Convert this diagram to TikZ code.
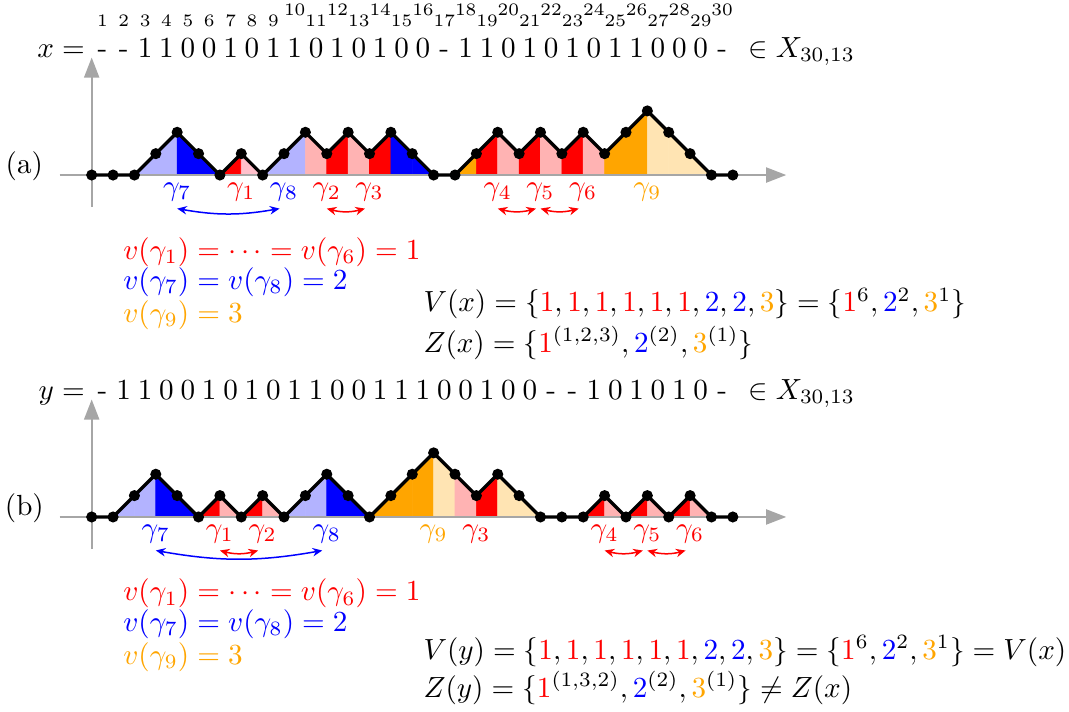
\documentclass[tikz,border=0pt]{standalone}
\usetikzlibrary{arrows.meta}
\definecolor{lbl}{HTML}{B3B3FF}
\definecolor{dbl}{HTML}{0000FF}
\definecolor{rd}{HTML}{FF0000}
\definecolor{pk}{HTML}{FFB3B3}
\definecolor{pnk}{HTML}{FFC0CB}
\definecolor{og}{HTML}{FFA500}
\definecolor{lor}{HTML}{FFE4B3}
\definecolor{axg}{HTML}{A6A6A6}
\newcommand{\cR}[1]{\textcolor{rd}{#1}}
\newcommand{\cB}[1]{\textcolor{dbl}{#1}}
\newcommand{\cO}[1]{\textcolor{og}{#1}}

\begin{document}
\begin{tikzpicture}[
  x=0.25cm, y=0.25cm,
  axis/.style={axg, line width=0.67pt, -{Triangle[length=6.7pt,width=5pt]}},
  walk/.style={line width=1.1pt, line join=round},
  dot/.style={circle, fill=black, inner sep=0pt, minimum size=3.7pt},
  col/.style={fill=#1, draw=#1, line width=0.2pt},
  chr/.style={anchor=base, inner sep=0pt, scale=0.97},
  idx/.style={anchor=base, inner sep=0pt, scale=0.97, font=\fontsize{6}{7}\selectfont},
  lab/.style={anchor=base, inner sep=2.4pt, scale=0.97},
  pair/.style={{Stealth[length=3.2pt,width=2.8pt]}-{Stealth[length=3.2pt,width=2.8pt]}, line width=0.5pt},
  eq/.style={anchor=base west, inner sep=0pt, scale=0.97}
]
\useasboundingbox (-4.29,-25.08) rectangle (45.73,8.19);

% ---------------------------------------------------------------- (a) the word x
\coordinate (oa) at (0,0);
\foreach \h [count=\k from 0] in {0,0,0,1,2,1,0,1,0,1,2,1,2,1,2,1,0,0,1,2,1,2,1,2,1,2,3,2,1,0,0}
  \coordinate (a\k) at (\k,\h);
\foreach \k/\c in {3/lbl,4/lbl,5/dbl,6/dbl,7/rd,8/pnk,9/lbl,10/lbl,11/pk,12/rd,13/pk,14/rd,15/dbl,16/dbl,
                   18/og,19/rd,20/pk,21/rd,22/pk,23/rd,24/pk,25/og,26/og,27/lor,28/lor,29/lor}{
  \pgfmathtruncatemacro\p{\k-1}
  \path[col=\c] (a\p) -- (a\k) -- (a\k |- oa) -- (a\p |- oa) -- cycle;
}
\draw[axis] (-1.5,0) -- (32.5,0);
\draw[axis] (0,-1.5) -- (0,5.5);
\draw[walk] (a0) \foreach \k in {1,...,30}{-- (a\k)};
\foreach \k in {0,...,30} \node[dot] at (a\k) {};
\node[chr] (taga) at (-3.15,0.08) {(a)};

\node[anchor=base east, inner sep=0pt, scale=0.97] (xeq) at (-0.3,5.5) {$x=$};
\foreach \c [count=\i] in {-,-,1,1,0,0,1,0,1,1,0,1,0,1,0,0,-,1,1,0,1,0,1,0,1,1,0,0,0,-}
  \node[chr] (xs\i) at (\i-0.5,5.5) {\c};
\foreach \i in {1,...,9} \node[idx] at (\i-0.5,6.93) {\i};
\foreach \i in {11,13,...,29} \node[idx] at (\i-0.5,6.93) {\i};
\foreach \i in {10,12,...,30} \node[idx] at (\i-0.5,7.45) {\i};
\node[eq] (xin) at (30.7,5.5) {$\in X_{30,13}$};

% labels and swaps
\node[lab, text=dbl] (ga7) at (4,-0.95) {$\gamma_7$};
\node[lab, text=rd]  (ga1) at (7,-0.95) {$\gamma_1$};
\node[lab, text=dbl] (ga8) at (9,-0.95) {$\gamma_8$};
\node[lab, text=rd]  (ga2) at (11,-0.95) {$\gamma_2$};
\node[lab, text=rd]  (ga3) at (13,-0.95) {$\gamma_3$};
\node[lab, text=rd]  (ga4) at (19,-0.95) {$\gamma_4$};
\node[lab, text=rd]  (ga5) at (21,-0.95) {$\gamma_5$};
\node[lab, text=rd]  (ga6) at (23,-0.95) {$\gamma_6$};
\node[lab, text=og]  (ga9) at (26,-0.95) {$\gamma_9$};
\draw[pair, dbl] (ga7.south) to[bend right=10] ([xshift=-1.5pt]ga8.south);
\draw[pair, rd] (ga2.south) to[bend right=15] ([xshift=-1.5pt]ga3.south);
\draw[pair, rd] (ga4.south) to[bend right=15] ([xshift=-1.5pt]ga5.south);
\draw[pair, rd] (ga5.south) to[bend right=15] ([xshift=-1.5pt]ga6.south);

\node[eq, text=rd]  (vxa) at (1.45,-3.93) {$v(\gamma_1)=\cdots=v(\gamma_6)=1$};
\node[eq, text=dbl] (vxb) at (1.45,-5.35) {$v(\gamma_7)=v(\gamma_8)=2$};
\node[eq, text=og]  (vxc) at (1.45,-6.9) {$v(\gamma_9)=3$};
\node[eq] (Vx) at (15.5,-6.4) {$V(x)=\{\cR{1},\cR{1},\cR{1},\cR{1},\cR{1},\cR{1},\cB{2},\cB{2},\cO{3}\}=\{\cR{1}^6,\cB{2}^2,\cO{3}^1\}$};
\node[eq] (Zx) at (15.5,-8.3) {$Z(x)=\{\cR{1}^{(1,2,3)},\cB{2}^{(2)},\cO{3}^{(1)}\}$};

% ---------------------------------------------------------------- (b) the word y
\begin{scope}[yshift=-4cm]
\coordinate (ob) at (0,0);
\foreach \h [count=\k from 0] in {0,0,1,2,1,0,1,0,1,0,1,2,1,0,1,2,3,2,1,2,1,0,0,0,1,0,1,0,1,0,0}
  \coordinate (b\k) at (\k,\h);
\foreach \k/\c in {2/lbl,3/lbl,4/dbl,5/dbl,6/rd,7/pk,8/rd,9/pk,10/lbl,11/lbl,12/dbl,13/dbl,
                   14/og,15/og,16/og,17/lor,18/pk,19/rd,20/lor,21/lor,24/rd,25/pk,26/rd,27/pk,28/rd,29/pk}{
  \pgfmathtruncatemacro\p{\k-1}
  \path[col=\c] (b\p) -- (b\k) -- (b\k |- ob) -- (b\p |- ob) -- cycle;
}
\draw[axis] (-1.5,0) -- (32.5,0);
\draw[axis] (0,-1.5) -- (0,5.5);
\draw[walk] (b0) \foreach \k in {1,...,30}{-- (b\k)};
\foreach \k in {0,...,30} \node[dot] at (b\k) {};
\node[chr] (tagb) at (-3.15,0.08) {(b)};

\node[anchor=base east, inner sep=0pt, scale=0.97] (yeq) at (-0.3,5.5) {$y=$};
\foreach \c [count=\i] in {-,1,1,0,0,1,0,1,0,1,1,0,0,1,1,1,0,0,1,0,0,-,-,1,0,1,0,1,0,-}
  \node[chr] (ys\i) at (\i-0.5,5.5) {\c};
\node[eq] (yin) at (30.7,5.5) {$\in X_{30,13}$};

\node[lab, text=dbl] (gb7) at (3,-0.95) {$\gamma_7$};
\node[lab, text=rd]  (gb1) at (6,-0.95) {$\gamma_1$};
\node[lab, text=rd]  (gb2) at (8,-0.95) {$\gamma_2$};
\node[lab, text=dbl] (gb8) at (11,-0.95) {$\gamma_8$};
\node[lab, text=og]  (gb9) at (16,-0.95) {$\gamma_9$};
\node[lab, text=rd]  (gb3) at (18,-0.95) {$\gamma_3$};
\node[lab, text=rd]  (gb4) at (24,-0.95) {$\gamma_4$};
\node[lab, text=rd]  (gb5) at (26,-0.95) {$\gamma_5$};
\node[lab, text=rd]  (gb6) at (28,-0.95) {$\gamma_6$};
\draw[pair, dbl] (gb7.south) to[bend right=10] ([xshift=-1.5pt]gb8.south);
\draw[pair, rd] (gb1.south) to[bend right=15] ([xshift=-1.5pt]gb2.south);
\draw[pair, rd] (gb4.south) to[bend right=15] ([xshift=-1.5pt]gb5.south);
\draw[pair, rd] (gb5.south) to[bend right=15] ([xshift=-1.5pt]gb6.south);

\node[eq, text=rd]  (vya) at (1.45,-3.93) {$v(\gamma_1)=\cdots=v(\gamma_6)=1$};
\node[eq, text=dbl] (vyb) at (1.45,-5.35) {$v(\gamma_7)=v(\gamma_8)=2$};
\node[eq, text=og]  (vyc) at (1.45,-6.9) {$v(\gamma_9)=3$};
\node[eq] (Vy) at (15.5,-6.65) {$V(y)=\{\cR{1},\cR{1},\cR{1},\cR{1},\cR{1},\cR{1},\cB{2},\cB{2},\cO{3}\}=\{\cR{1}^6,\cB{2}^2,\cO{3}^1\}=V(x)$};
\node[eq] (Zy) at (15.5,-8.45) {$Z(y)=\{\cR{1}^{(1,3,2)},\cB{2}^{(2)},\cO{3}^{(1)}\}\neq Z(x)$};
\end{scope}
\end{tikzpicture}
\end{document}
